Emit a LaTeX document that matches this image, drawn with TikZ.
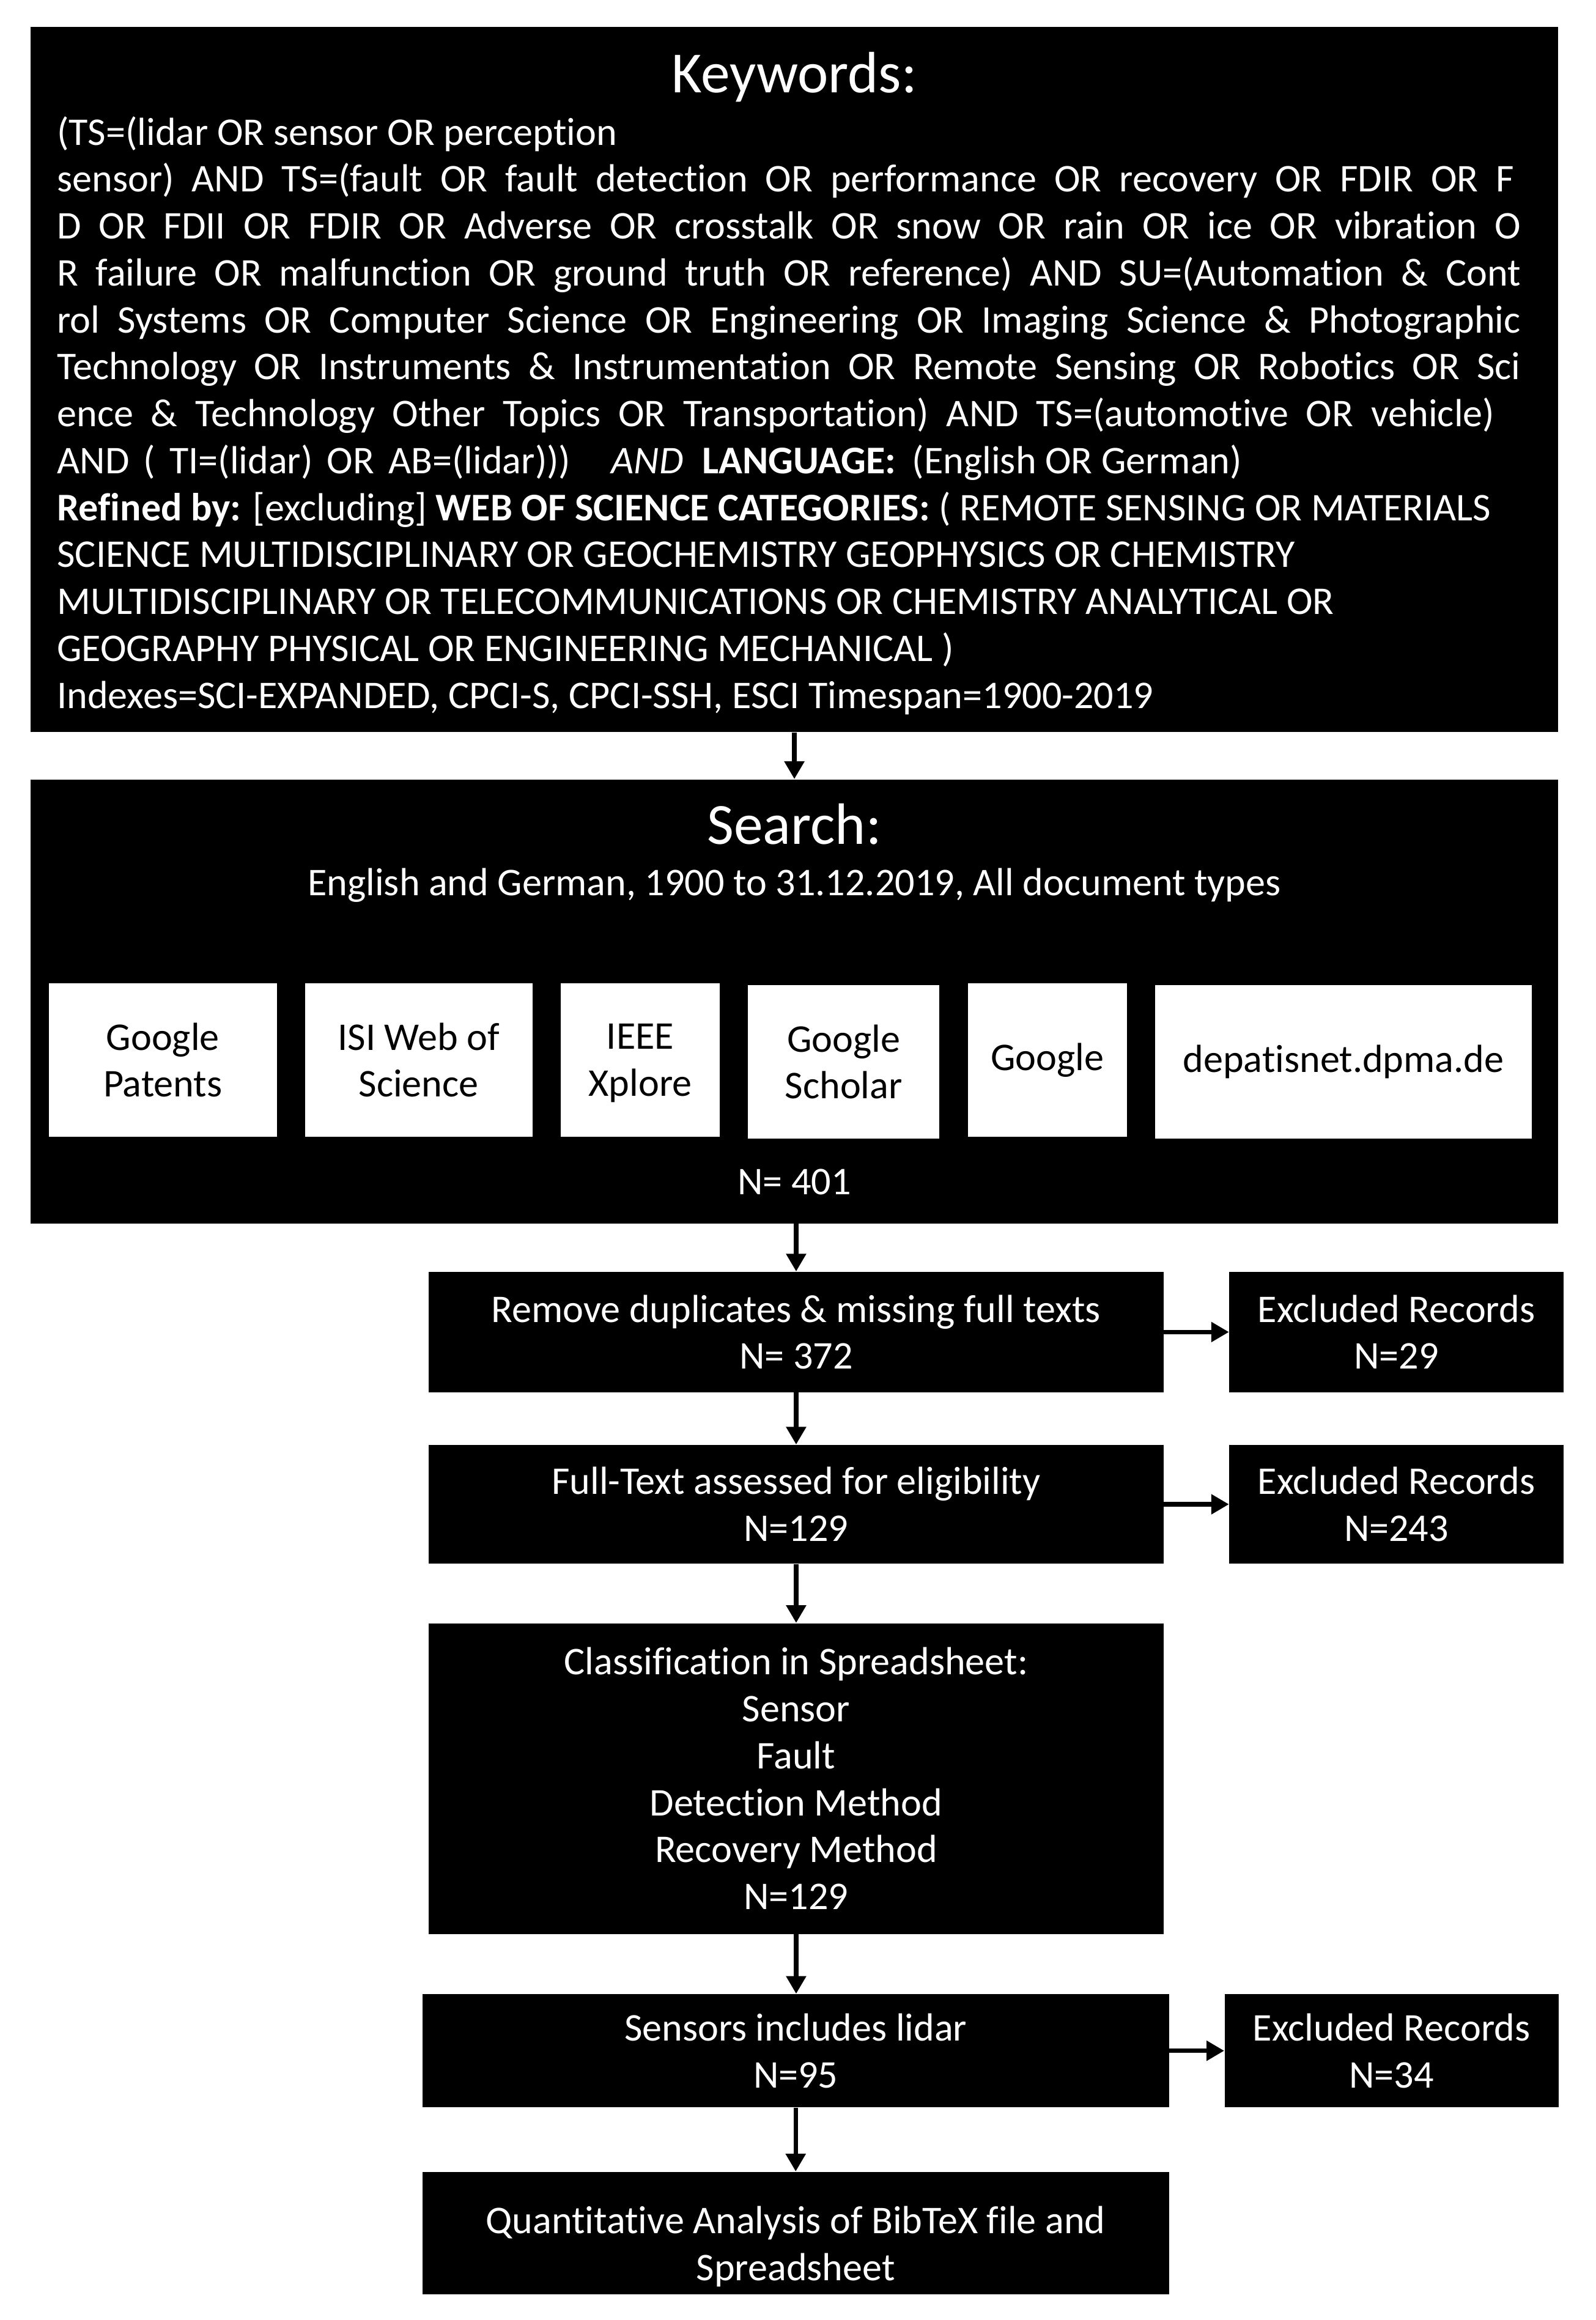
\documentclass[tikz,border=0pt]{standalone}
\usepackage{fontspec}
\setmainfont{Carlito}[Ligatures=NoCommon]
\usetikzlibrary{arrows.meta}
\tikzset{
  blk/.style={fill=black,draw=none,inner sep=0pt,text=white,align=center,font=\fontsize{26.5}{31.7}\selectfont},
  wbox/.style={fill=white,draw=none,inner sep=0pt,text=black,align=center,font=\fontsize{26.5}{31.7}\selectfont},
  kwtxt/.style={anchor=base west,inner sep=0pt,text=white,font=\fontsize{26.5}{31.7}\selectfont},
  ctxt/.style={anchor=base,inner sep=0pt,text=white,font=\fontsize{26.5}{31.7}\selectfont},
  ttl/.style={anchor=base,inner sep=0pt,text=white,font=\fontsize{39.4}{47}\selectfont},
  arr/.style={line width=3pt,-{Triangle[width=13pt,length=12pt]}}
}
\begin{document}
\begin{tikzpicture}[x=1pt,y=-1pt]
\useasboundingbox[fill=white] (0,0) rectangle (1078,1567.03);
% boxes
\node[blk,minimum width=1031.9pt,minimum height=476.3pt] (kw) at (536.55,256.25) {};
\node[blk,minimum width=1031.9pt,minimum height=299.9pt] (search) at (536.55,676.35) {};
\node[wbox,minimum width=154pt,minimum height=103.4pt] (gp) at (110,716) {Google\\Patents};
\node[wbox,minimum width=153.6pt,minimum height=103.4pt] (isi) at (282.8,716) {ISI Web of\\Science};
\node[wbox,minimum width=107.3pt,minimum height=103.4pt] (ieee) at (432.45,716) {\rule{0pt}{21pt}IEEE\\Xplore};
\node[wbox,minimum width=129.2pt,minimum height=103.5pt] (gs) at (569.9,717.15) {Google\\Scholar};
\node[wbox,minimum width=107.2pt,minimum height=103.4pt] (goo) at (707.4,716) {\raisebox{-2pt}{Google}};
\node[wbox,minimum width=254.3pt,minimum height=103.6pt] (dep) at (907.45,717.2) {\raisebox{-2pt}{depatisnet.dpma.de}};
\node[blk,minimum width=496.1pt,minimum height=81.4pt] (rem) at (537.75,899.7) {Remove duplicates \& missing full texts\\N= 372};
\node[blk,minimum width=225.7pt,minimum height=81.4pt] (ex1) at (943.15,899.7) {Excluded Records\\N=29};
\node[blk,minimum width=496.1pt,minimum height=80.3pt] (full) at (537.75,1016.05) {Full-Text assessed for eligibility\\N=129};
\node[blk,minimum width=225.7pt,minimum height=80.3pt] (ex2) at (943.15,1016.05) {Excluded Records\\N=243};
\node[blk,minimum width=496.1pt,minimum height=209.8pt] (cls) at (537.75,1201.3) {Classification in Spreadsheet:\\Sensor\\Fault\\Detection Method\\Recovery Method\\N=129};
\node[blk,minimum width=504.1pt,minimum height=76.5pt] (sens) at (537.45,1385.15) {Sensors includes lidar\\N=95};
\node[blk,minimum width=225.6pt,minimum height=76.5pt] (ex3) at (939.9,1385.15) {Excluded Records\\N=34};
\node[blk,minimum width=504.1pt,minimum height=82.7pt] (quant) at (537.45,1508.25) {};
\node[ctxt] (q1) at (537.45,1508.5) {Quantitative Analysis of BibTeX file and};
\node[ctxt] (q2) at (537.45,1540.2) {Spreadsheet};
% keyword texts
\node[ttl] (kwt) at (536.55,62.6) {Keywords:};
\node[kwtxt] (k0) at (38.4,97.9) {(TS=(lidar OR sensor OR perception};
\node[kwtxt] (k1) at (38.4,129.6) {\makebox[984pt][s]{sensor) AND TS=(fault OR fault detection OR performance OR recovery OR FDIR OR F}};
\node[kwtxt] (k2) at (38.4,161.3) {\makebox[988.6pt][s]{D OR FDII OR FDIR OR Adverse OR crosstalk OR snow OR rain OR ice OR vibration O}};
\node[kwtxt] (k3) at (38.4,193.0) {\makebox[988.6pt][s]{R failure OR malfunction OR ground truth OR reference) AND SU=(Automation \& Cont}};
\node[kwtxt] (k4) at (38.4,224.7) {\makebox[988.6pt][s]{rol Systems OR Computer Science OR Engineering OR Imaging Science \& Photographic}};
\node[kwtxt] (k5) at (38.4,256.4) {\makebox[988.6pt][s]{Technology OR Instruments \& Instrumentation OR Remote Sensing OR Robotics OR Sci}};
\node[kwtxt] (k6) at (38.4,288.1) {\makebox[971pt][s]{ence \& Technology Other Topics OR Transportation) AND TS=(automotive OR vehicle)}};
\node[kwtxt] (k7a) at (38.4,319.8) {\makebox[347pt][s]{AND ( TI=(lidar) OR AB=(lidar)))}};
\node[kwtxt] (k7b) at (412.7,319.8) {\itshape AND};
\node[kwtxt] (k7c) at (474,319.8) {\bfseries LANGUAGE:};
\node[kwtxt] (k7d) at (616,319.8) {(English OR German)};
\node[kwtxt] (k8) at (38.4,351.5) {\textbf{Refined by:} [excluding] \textbf{WEB OF SCIENCE CATEGORIES:} ( REMOTE SENSING OR MATERIALS};
\node[kwtxt] (k9) at (38.4,383.2) {SCIENCE MULTIDISCIPLINARY OR GEOCHEMISTRY GEOPHYSICS OR CHEMISTRY};
\node[kwtxt] (k10) at (38.4,414.9) {MULTIDISCIPLINARY OR TELECOMMUNICATIONS OR CHEMISTRY ANALYTICAL OR};
\node[kwtxt] (k11) at (38.4,446.6) {GEOGRAPHY PHYSICAL OR ENGINEERING MECHANICAL )};
\node[kwtxt] (k12) at (38.4,478.3) {Indexes=SCI-EXPANDED, CPCI-S, CPCI-SSH, ESCI Timespan=1900-2019};
% search texts
\node[ttl] (st) at (536.55,570) {Search:};
\node[ctxt] (ssub) at (536.55,604.8) {English and German, 1900 to 31.12.2019, All document types};
\node[ctxt] (sn) at (536.55,806.7) {N= 401};
% connectors
\draw[arr] (kw.south) -- (search.north);
\draw[arr] (rem.north |- search.south) -- (rem.north);
\draw[arr] (rem.south) -- (full.north);
\draw[arr] (full.south) -- (cls.north);
\draw[arr] (cls.south) -- (cls.south |- sens.north);
\draw[arr] (sens.south) -- (quant.north);
\draw[arr] (rem.east) -- (ex1.west);
\draw[arr] (full.east) -- (ex2.west);
\draw[arr] (sens.east) -- (ex3.west);
\end{tikzpicture}
\end{document}
